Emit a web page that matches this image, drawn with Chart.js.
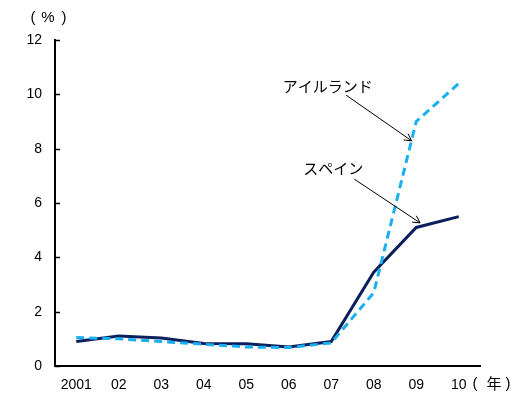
<!DOCTYPE html>
<html>
<head>
<meta charset="utf-8">
<script src="https://cdn.jsdelivr.net/npm/chart.js@4/dist/chart.umd.min.js"></script>
<style>
  html, body { margin: 0; padding: 0; background: #fff; }
  #wrap { width: 528px; height: 394px; }
</style>
</head>
<body>
<div id="wrap"><canvas id="c" width="528" height="394"></canvas></div>
<script>
// Year labels along the horizontal axis
const years = ['2001', '02', '03', '04', '05', '06', '07', '08', '09', '10'];
// Series values (%)
const spain = [0.9, 1.1, 1.03, 0.83, 0.82, 0.7, 0.9, 3.45, 5.1, 5.5];
const ireland = [1.05, 1.0, 0.9, 0.8, 0.7, 0.68, 0.85, 2.7, 9.0, 10.4];
// Vertical axis ticks
const yTicks = [0, 2, 4, 6, 8, 10, 12];
// Series names
const spainName = 'スペイン';
const irelandName = 'アイルランド';

const LATIN = '"Liberation Sans", Arial, sans-serif';
const CJK = '"Noto Sans CJK JP", sans-serif';

// Callout labels: text anchor and arrow ends in data coordinates (category index, value)
const callouts = [
  { text: irelandName, textIdx: 4.86, textVal: 10.28, fromIdx: 6.35, fromVal: 9.97, toIdx: 7.89, toVal: 8.29 },
  { text: spainName, textIdx: 5.34, textVal: 7.29, fromIdx: 6.54, fromVal: 6.88, toIdx: 8.09, toVal: 5.27 }
];

const decor = {
  id: 'decor',
  afterDraw(chart) {
    const ctx = chart.ctx;
    const x = chart.scales.x, y = chart.scales.y;
    const area = chart.chartArea;
    ctx.save();
    // inward tick marks on the value axis
    ctx.strokeStyle = '#000';
    ctx.lineWidth = 1.5;
    yTicks.forEach(v => {
      const py = Math.round(y.getPixelForValue(v)) + 0.5;
      ctx.beginPath();
      ctx.moveTo(area.left, py);
      ctx.lineTo(area.left + 5, py);
      ctx.stroke();
    });
    // unit captions
    ctx.fillStyle = '#000';
    ctx.textBaseline = 'middle';
    ctx.textAlign = 'center';
    ctx.font = '15px ' + LATIN;
    ctx.fillText('(', 33, 18);
    ctx.fillText('%', 48, 18);
    ctx.fillText(')', 64, 18);
    ctx.fillText('(', 475, 384);
    ctx.fillText(')', 508, 384);
    ctx.font = '15px ' + CJK;
    ctx.fillText('年', 494, 383);
    // callouts with arrows
    callouts.forEach(c => {
      ctx.font = '15px ' + CJK;
      ctx.fillStyle = '#000';
      ctx.textAlign = 'left';
      ctx.textBaseline = 'middle';
      ctx.fillText(c.text, x.getPixelForValue(c.textIdx), y.getPixelForValue(c.textVal));
      const x1 = x.getPixelForValue(c.fromIdx), y1 = y.getPixelForValue(c.fromVal);
      const x2 = x.getPixelForValue(c.toIdx), y2 = y.getPixelForValue(c.toVal);
      ctx.strokeStyle = '#000';
      ctx.lineWidth = 1;
      ctx.beginPath();
      ctx.moveTo(x1, y1);
      ctx.lineTo(x2, y2);
      ctx.stroke();
      const ang = Math.atan2(y2 - y1, x2 - x1);
      const len = 8, spread = 0.5;
      ctx.beginPath();
      ctx.moveTo(x2 - len * Math.cos(ang - spread), y2 - len * Math.sin(ang - spread));
      ctx.lineTo(x2, y2);
      ctx.lineTo(x2 - len * Math.cos(ang + spread), y2 - len * Math.sin(ang + spread));
      ctx.stroke();
    });
    ctx.restore();
  }
};

new Chart(document.getElementById('c'), {
  type: 'line',
  data: {
    labels: years,
    datasets: [
      {
        label: irelandName,
        data: ireland,
        borderColor: '#1aaff0',
        borderWidth: 3,
        borderDash: [8, 5],
        pointRadius: 0,
        tension: 0,
        fill: false
      },
      {
        label: spainName,
        data: spain,
        borderColor: '#0b1f5c',
        borderWidth: 3,
        pointRadius: 0,
        tension: 0,
        fill: false
      }
    ]
  },
  options: {
    responsive: false,
    animation: false,
    devicePixelRatio: 1,
    layout: { padding: { top: 40, left: 0, right: 48, bottom: 0 } },
    plugins: { legend: { display: false }, tooltip: { enabled: false } },
    scales: {
      x: {
        offset: true,
        grid: { display: false, drawTicks: false },
        border: { display: true, color: '#000', width: 2 },
        ticks: { color: '#000', font: { family: LATIN, size: 14 }, padding: 11, maxRotation: 0, autoSkip: false },
        afterFit(s) { s.height = 28; }
      },
      y: {
        min: 0,
        max: 12,
        afterBuildTicks(s) { s.ticks = yTicks.map(v => ({ value: v })); },
        grid: { display: false, drawTicks: false },
        border: { display: true, color: '#000', width: 2 },
        ticks: { color: '#000', font: { family: LATIN, size: 14 }, padding: 13 },
        afterFit(s) { s.width = 55; }
      }
    }
  },
  plugins: [decor]
});
</script>
</body>
</html>
